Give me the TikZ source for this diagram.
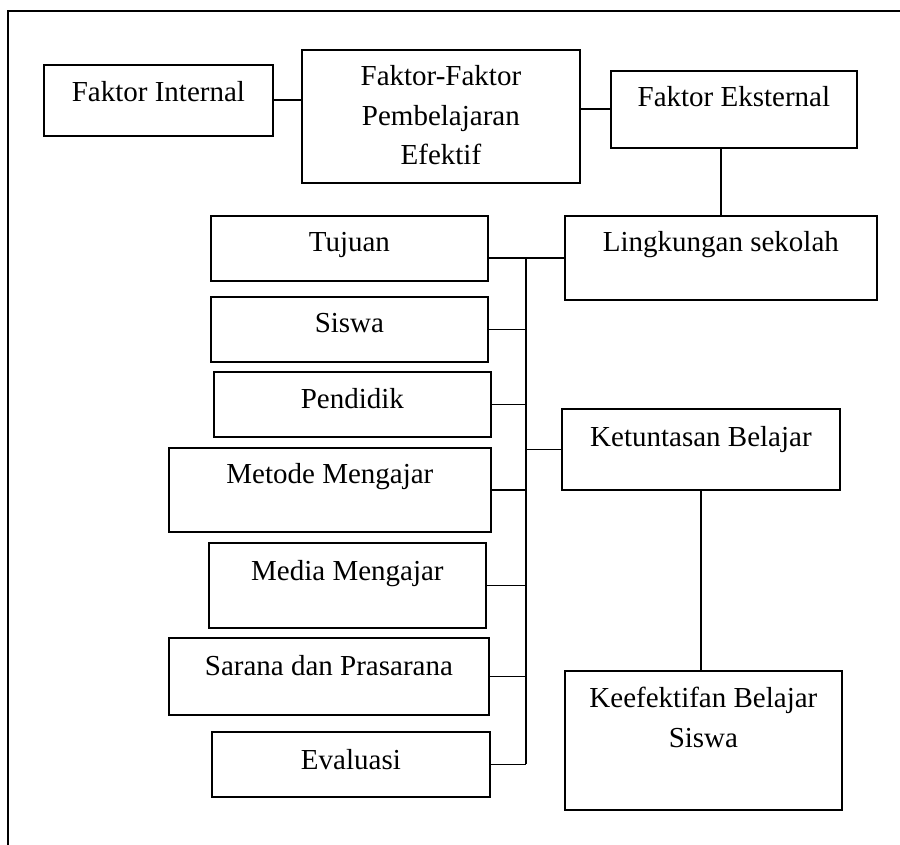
\documentclass[tikz,border=0pt]{standalone}
\usepackage{fontspec}
\setmainfont{Liberation Serif}
\usetikzlibrary{calc}

\begin{document}
\begin{tikzpicture}[x=1pt,y=-1pt,
  kotak/.style={draw,line width=1.8pt,inner sep=0pt,anchor=north west},
  teks/.style={anchor=base,inner sep=0pt,align=center,font=\fontsize{29}{39.5}\selectfont},
  garis/.style={line width=1.8pt},
  bingkai/.style={line width=1.8pt}]
\useasboundingbox (0,0) rectangle (900,845);
% frame
\draw[bingkai] (8,845) -- (8,11) -- (900,11);
% top row
\node[kotak,minimum width=229,minimum height=71] (fi) at (43,64) {};
\node[kotak,minimum width=278,minimum height=133] (ff) at (301,49) {};
\node[kotak,minimum width=246,minimum height=77] (ek) at (610,70) {};
\node[teks] (fi-t) at ([yshift=-38pt]fi.north) {Faktor Internal};
\node[teks] (ff-t) at ([yshift=-116pt]ff.north) {Faktor-Faktor\\Pembelajaran\\Efektif};
\node[teks] (ek-t) at ([yshift=-37pt]ek.north) {Faktor Eksternal};
\draw[garis] (fi.east) -- (fi.east -| ff.west);
\draw[garis] (ek.west) -- (ek.west -| ff.east);
% lingkungan sekolah
\node[kotak,minimum width=312,minimum height=84] (lk) at (564,215) {};
\node[teks] (lk-t) at ([yshift=-37pt]lk.north) {Lingkungan sekolah};
\draw[garis] (lk.north |- ek.south) -- (lk.north);
% left column
\node[kotak,minimum width=277,minimum height=65] (tj) at (210,215) {};
\node[kotak,minimum width=277,minimum height=65] (sw) at (210,296) {};
\node[kotak,minimum width=277,minimum height=65] (pd) at (213,371) {};
\node[kotak,minimum width=322,minimum height=84] (mm) at (168,447) {};
\node[kotak,minimum width=277,minimum height=85] (md) at (208,542) {};
\node[kotak,minimum width=320,minimum height=77] (sp) at (168,637) {};
\node[kotak,minimum width=278,minimum height=65] (ev) at (211,731) {};
\node[teks] (tj-t) at ([yshift=-37pt]tj.north) {Tujuan};
\node[teks] (sw-t) at ([yshift=-36pt]sw.north) {Siswa};
\node[teks] (pd-t) at ([yshift=-37pt]pd.north) {Pendidik};
\node[teks] (mm-t) at ([yshift=-36pt]mm.north) {Metode Mengajar};
\node[teks] (md-t) at ([yshift=-38pt]md.north) {Media Mengajar};
\node[teks] (sp-t) at ([yshift=-38pt]sp.north) {Sarana dan Prasarana};
\node[teks] (ev-t) at ([yshift=-38pt]ev.north) {Evaluasi};
% right column
\node[kotak,minimum width=278,minimum height=81] (kt) at (561,408) {};
\node[kotak,minimum width=277,minimum height=139] (kf) at (564,670) {};
\node[teks] (kt-t) at ([yshift=-38pt]kt.north) {Ketuntasan Belajar};
\node[teks] (kf-t) at ([yshift=-77pt]kf.north) {Keefektifan Belajar\\Siswa};
\draw[garis] (kt.south) -- (kt.south |- kf.north);
% bus
\coordinate (bus) at (526,0);
\draw[garis] (lk.west -| bus) -- (ev.east -| bus);
\draw[garis] (lk.west) -- (tj.east |- lk.west);
\draw[garis] (kt.west) -- (kt.west -| bus);
\foreach \k in {sw,pd,mm,md,sp,ev}
  \draw[garis] (\k.east) -- (\k.east -| bus);
\end{tikzpicture}
\end{document}
